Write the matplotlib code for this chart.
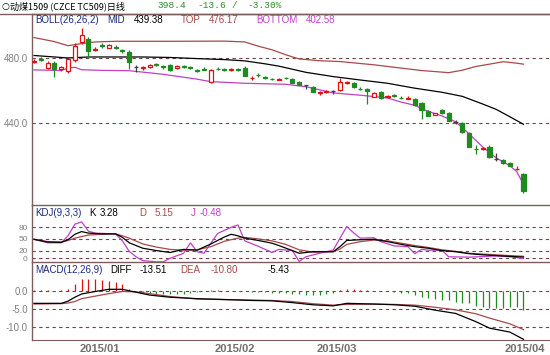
import numpy as np
import matplotlib
matplotlib.use("Agg")
import matplotlib.pyplot as plt
from matplotlib.lines import Line2D

W, H = 550, 355

# ---- daily candles, 动煤1509 ----
opens = [477.8, 479.6, 473.9, 477.1, 473.3, 472.0, 478.8, 489.6, 491.5, 485.1,
         487.8, 486.3, 486.6, 484.6, 483.9, 474.5, 474.0, 474.5, 476.2, 474.8,
         475.7, 473.7, 474.8, 474.4, 472.8, 473.4, 465.3, 473.4, 473.0, 472.9,
         473.0, 473.9, 467.5, 469.8, 468.1, 467.3, 466.8, 467.9, 467.1, 465.3,
         463.5, 462.2, 458.6, 459.2, 459.5, 460.4, 464.5, 464.7, 461.3, 460.7,
         456.3, 459.4, 456.0, 457.2, 455.6, 455.1, 454.9, 452.4, 447.7, 445.1,
         448.2, 446.5, 441.0, 440.0, 434.3, 424.4, 424.4, 425.3, 418.2, 417.5,
         415.9, 411.8, 409.0]
highs = [479.5, 480.6, 478.2, 478.0, 475.3, 480.0, 489.0, 498.6, 492.6, 486.5,
         489.2, 488.6, 488.0, 485.6, 484.6, 475.6, 475.0, 476.2, 476.9, 475.6,
         476.1, 475.8, 475.8, 475.0, 473.5, 474.6, 473.0, 474.4, 473.6, 473.8,
         473.6, 475.0, 469.0, 471.0, 469.0, 468.0, 467.8, 468.5, 467.5, 465.6,
         463.6, 462.6, 459.6, 460.3, 460.6, 467.8, 466.0, 465.3, 462.3, 461.5,
         459.3, 460.0, 457.3, 457.8, 456.6, 457.0, 455.3, 453.0, 448.3, 446.6,
         448.8, 447.0, 442.2, 440.5, 434.8, 426.8, 425.6, 427.0, 421.8, 418.4,
         416.4, 414.0, 409.5]
lows = [476.8, 478.0, 473.2, 468.5, 472.3, 470.8, 477.8, 488.6, 479.8, 484.2,
        486.3, 485.8, 485.6, 483.3, 473.3, 471.5, 472.6, 474.0, 475.0, 473.5,
        472.0, 473.2, 473.6, 473.3, 471.6, 472.4, 464.8, 472.4, 471.9, 472.3,
        471.8, 468.8, 466.2, 468.6, 467.0, 466.4, 466.2, 467.0, 464.5, 463.2,
        460.8, 458.9, 457.6, 458.4, 457.8, 460.0, 464.0, 461.8, 460.2, 451.8,
        455.8, 455.0, 455.4, 456.2, 454.6, 455.0, 450.8, 442.6, 444.2, 444.8,
        446.0, 441.2, 439.8, 434.0, 425.3, 421.2, 423.6, 418.8, 416.9, 415.0,
        413.6, 411.4, 397.6]
closes = [478.4, 478.9, 476.9, 473.3, 474.5, 479.4, 487.5, 494.1, 484.5, 485.7,
          487.3, 488.0, 486.1, 484.1, 477.4, 474.5, 474.5, 475.7, 475.8, 474.3,
          472.7, 475.3, 474.3, 473.9, 472.2, 472.9, 472.7, 473.0, 472.6, 473.3,
          472.6, 469.2, 468.0, 469.4, 467.7, 467.0, 467.2, 467.5, 464.7, 463.5,
          463.5, 459.2, 459.0, 459.6, 459.5, 465.3, 465.2, 462.2, 460.8, 459.5,
          458.8, 455.3, 456.5, 456.7, 455.2, 455.4, 451.2, 448.2, 444.7, 446.3,
          446.5, 441.6, 441.0, 434.5, 425.7, 424.0, 424.9, 419.2, 418.2, 415.5,
          414.1, 412.0, 398.4]

# ---- BOLL(26,26,2) ----
top_x = [0, 3, 5, 7, 9, 12, 20, 28, 31, 33, 35, 37, 39, 42, 45, 50, 54, 57, 61, 63, 65, 67, 69, 71, 72]
top_y = [492.5, 490.0, 487.5, 488.8, 489.8, 490.2, 490.2, 490.3, 489.8, 487.2, 485.0, 482.0,
         479.4, 478.3, 477.8, 475.8, 473.8, 472.3, 471.0, 472.5, 474.8, 476.2, 477.7, 476.8, 476.2]
mid_x = [0, 3, 5, 8, 16, 20, 24, 28, 31, 34, 36, 40, 44, 48, 52, 56, 60, 63, 66, 68, 70, 72]
mid_y = [481.5, 480.6, 480.0, 480.6, 480.6, 480.3, 479.6, 479.0, 478.2, 476.4, 475.0, 471.2,
         468.6, 466.5, 464.5, 461.5, 459.0, 456.5, 451.8, 448.5, 444.0, 439.4]
bot_x = [0, 4, 5, 6, 7, 10, 14, 19, 24, 26, 31, 37, 40, 44, 48, 52, 54, 56, 58, 60, 62, 64, 66, 68, 70, 71, 72]
bot_y = [472.7, 472.3, 473.8, 474.3, 472.8, 472.4, 472.2, 470.0, 467.0, 465.5, 464.5, 463.9,
         462.4, 458.6, 457.2, 455.5, 453.0, 451.0, 447.3, 444.5, 441.0, 433.5, 425.5, 418.8,
         414.0, 410.5, 402.6]

# ---- KDJ(9,3,3) ----
k_x = [0, 2, 4, 5, 6, 7, 8, 10, 12, 13, 14, 16, 18, 20, 22, 24, 26, 28, 29, 30, 31, 33, 35, 36,
       38, 39, 41, 44, 45, 46, 48, 50, 52, 54, 56, 58, 60, 62, 64, 66, 68, 70, 72]
k_y = [49, 42, 41, 48, 62, 69, 65, 63, 63, 54, 40, 26, 20, 15, 23, 21, 37, 55, 62, 58, 52, 46, 39, 33,
       20, 13, 17, 17, 30, 46, 48, 49, 43, 36, 30, 26, 20, 17, 12, 9, 7, 5, 3.28]
d_x = [0, 2, 4, 5, 6, 7, 8, 10, 12, 13, 14, 16, 18, 20, 22, 24, 26, 28, 30, 31, 33, 35, 37, 39,
       41, 44, 45, 46, 48, 50, 52, 54, 56, 58, 60, 62, 64, 66, 68, 70, 72]
d_y = [49, 43, 42, 46, 52, 56, 60, 62, 63, 58, 52, 37, 29, 23, 21, 22, 30, 44, 52, 54, 50, 45, 36, 22,
       16, 17, 24, 36, 43, 47, 45, 39, 33, 28, 22, 18, 13, 11, 9, 7, 5.15]
j_x = [0, 2, 4, 5, 6, 7, 8, 9, 12, 13, 14, 15, 16, 18, 19, 20, 22, 23, 24, 25, 27, 29, 30, 31, 33,
       35, 36, 38, 39, 40, 42, 44, 46, 47, 48, 50, 51, 53, 55, 56, 57, 58, 60, 61, 64, 68, 70, 72]
j_y = [49, 40, 40, 58, 88, 94, 70, 65, 63, 45, 18, 4, -6, -9, -9, 0, 13, 40, 17, 13, 64, 80, 86, 45, 31,
       15, 23, 20, -8, 4, 13, 21, 82, 66, 52, 53, 43, 32, 30, 12, 23, 21, 21, 4, 3, 6, 4, -0.48]

# ---- MACD(12,26,9) ----
diff_x = [0, 4, 5, 6, 7, 9, 11, 13, 15, 17, 20, 24, 29, 32, 35, 38, 41, 44, 46, 50, 53, 56, 59, 62, 65, 67, 70, 72]
diff_y = [-3.5, -3.5, -2.9, -1.8, -0.9, -0.2, 0.4, 0.4, -0.4, -1.2, -1.8, -2.2, -2.5, -2.7, -2.8,
          -3.3, -3.9, -4.2, -3.5, -3.7, -3.9, -4.3, -5.4, -6.3, -8.6, -10.4, -11.5, -13.51]
dea_x = diff_x
dea_y = [-3.7, -3.6, -3.4, -3.0, -2.2, -1.5, -0.8, -0.2, -0.3, -0.8, -1.6, -2.3, -2.5, -2.6, -2.7,
         -3.0, -3.6, -4.0, -3.8, -3.7, -3.8, -4.0, -4.6, -5.3, -6.4, -7.6, -9.2, -10.8]
macd_bar = [0.2, 0.2, 0.15, 0.05, 0.2, 0.6, 2.0, 3.4, 3.2, 3.2, 3.0, 2.7, 2.4, 2.0, 0.5,
            -0.2, -0.5, -0.7, -0.8, -0.9, -1.0, -1.0, -0.8, -0.5, -0.3, -0.2, 0.1, 0.1, 0.0, -0.1,
            -0.1, -0.2, -0.3, -0.4, -0.4, -0.5, -0.6, -0.7, -0.8, -1.0, -1.1, -1.2, -1.2, -1.0, -0.6,
            0.3, 0.5, 0.4, 0.2, 0.1, 0.0, -0.1, -0.2, -0.3, -0.5, -0.7, -1.2, -1.6, -2.1, -2.4,
            -2.6, -2.6, -3.0, -3.3, -3.5, -4.2, -4.6, -4.9, -4.9, -4.9, -4.6, -4.6, -5.43]

date_pos = [9.7, 29.6, 44.5, 72.2]
date_lbl = ["2015/01", "2015/02", "2015/03", "2015/04"]

UP = "#e01010"
DOWN = "#1f8a1f"
FLAT = "#404040"
FRAME = "#7d5c5c"
GRIDC = "#6e4646"
TOPC = "#a84848"
BOTC = "#c040c8"
NAVY = "#1a2a80"
TICKC = "#808080"
TXT = "Liberation Sans"

fig = plt.figure(figsize=(W / 100, H / 100), dpi=100)
fig.patch.set_facecolor("white")


def box(y0, y1):
    return [32 / W, 1 - y1 / H, (W - 32) / W, (y1 - y0) / H]


ax1 = fig.add_axes(box(14, 205))
ax2 = fig.add_axes(box(205, 262))
ax3 = fig.add_axes(box(262, 340))

xlim = (-0.3, 75.9)
for ax in (ax1, ax2, ax3):
    ax.set_xlim(*xlim)
    ax.set_facecolor("white")
    for s in ("right", "bottom"):
        ax.spines[s].set_visible(False)
    for s in ("left", "top"):
        ax.spines[s].set_color(FRAME)
        ax.spines[s].set_linewidth(1)
    ax.tick_params(axis="y", length=0, pad=3, labelsize=7, labelcolor=TICKC)
    ax.tick_params(axis="x", length=0)
    ax.set_xticks([])
ax3.spines["bottom"].set_visible(True)
ax3.spines["bottom"].set_color(FRAME)

# ---- price panel ----
ax1.set_ylim(390.0, 506.9)
ax1.set_yticks([480, 440])
ax1.set_yticklabels(["480.0", "440.0"], fontfamily=TXT)
for v in (480, 440):
    ax1.axhline(v, color=GRIDC, lw=0.8, ls=(0, (3, 3)), zorder=1)

ax1.plot(top_x, top_y, color=TOPC, lw=0.9, zorder=2)
ax1.plot(mid_x, mid_y, color="black", lw=0.9, zorder=2)
ax1.plot(bot_x, bot_y, color=BOTC, lw=0.9, zorder=2)

for i in range(len(closes)):
    o, h, l, c = opens[i], highs[i], lows[i], closes[i]
    if c > o:
        col, face = UP, "white"
    elif c < o:
        col, face = DOWN, DOWN
    else:
        col, face = FLAT, FLAT
    ax1.vlines(i, l, h, color=col, lw=0.9, zorder=3)
    ax1.bar(i, max(abs(c - o), 0.05), bottom=min(o, c), width=0.6,
            facecolor=face, edgecolor=col, linewidth=0.9, zorder=4)

# ---- KDJ panel ----
ax2.set_ylim(-9.5, 137.5)
ax2.set_yticks([80, 50, 20, 0])
ax2.set_yticklabels(["80", "50", "20", "0"], fontfamily=TXT, fontsize=6)
for v in (80, 50, 20, 0):
    ax2.axhline(v, color=GRIDC, lw=0.8, ls=(0, (3, 3)), zorder=1)
ax2.plot(d_x, d_y, color=TOPC, lw=0.9, zorder=2)
ax2.plot(k_x, k_y, color="black", lw=0.9, zorder=3)
ax2.plot(j_x, j_y, color=BOTC, lw=0.9, zorder=2)

# ---- MACD panel ----
ax3.set_ylim(-13.7, 8.0)
ax3.set_yticks([0, -5, -10])
ax3.set_yticklabels(["0.0", "-5.0", "-10.0"], fontfamily=TXT)
for v in (0, -5, -10):
    ax3.axhline(v, color=GRIDC, lw=0.8, ls=(0, (3, 3)), zorder=1)
bar_x = np.arange(len(macd_bar))
bar_v = np.array(macd_bar)
ax3.vlines(bar_x[bar_v >= 0], 0, bar_v[bar_v >= 0], color=UP, lw=0.9, zorder=2)
ax3.vlines(bar_x[bar_v < 0], 0, bar_v[bar_v < 0], color=DOWN, lw=0.9, zorder=2)
ax3.plot(dea_x, dea_y, color=TOPC, lw=0.9, zorder=3)
ax3.plot(diff_x, diff_y, color="black", lw=0.9, zorder=4)

ax3.set_xticks(date_pos)
ax3.set_xticklabels(date_lbl, fontfamily=TXT, fontsize=8, fontweight="bold", color="#707070")
ax3.tick_params(axis="x", length=0, pad=3)

# ---- header / legends ----
fig.add_artist(Line2D([0, 1], [1 - 14 / H, 1 - 14 / H], color=FRAME, lw=1))


def ftxt(x, y, s, color="black", size=7, family=TXT, **kw):
    fig.text(x / W, 1 - y / H, s, color=color, fontsize=size, family=family,
             ha="left", va="center", **kw)


ftxt(1, 6, "○", size=6.5, family="DejaVu Sans")
ftxt(10, 6, "动煤1509 (CZCE TC509)日线", size=6.5, family=["Noto Sans CJK SC", "DejaVu Sans"])
G = "#2e8b2e"
ftxt(157, 6, "398.4", color=G, size=6.8, family="Liberation Mono")
ftxt(197, 6, "-13.6", color=G, size=6.8, family="Liberation Mono")
ftxt(231, 6, "/", color=G, size=6.8, family="Liberation Mono")
ftxt(247, 6, "-3.30%", color=G, size=6.8, family="Liberation Mono")

ftxt(35, 20, "BOLL(26,26,2)", color=NAVY)
ftxt(107, 20, "MID", color=NAVY)
ftxt(134, 20, "439.38", color="black")
ftxt(181, 20, "TOP", color=TOPC)
ftxt(209, 20, "476.17", color=TOPC)
ftxt(256, 20, "BOTTOM", color=BOTC)
ftxt(306, 20, "402.58", color=BOTC)

ftxt(35, 213, "KDJ(9,3,3)", color=NAVY)
ftxt(89, 213, "K", color="black")
ftxt(100, 213, "3.28", color="black")
ftxt(139, 213, "D", color=TOPC)
ftxt(155, 213, "5.15", color=TOPC)
ftxt(191, 213, "J", color=BOTC)
ftxt(200, 213, "-0.48", color=BOTC)

ftxt(35, 270, "MACD(12,26,9)", color=NAVY)
ftxt(110, 270, "DIFF", color="black")
ftxt(140, 270, "-13.51", color="black")
ftxt(180, 270, "DEA", color=TOPC)
ftxt(211, 270, "-10.80", color=TOPC)
ftxt(268, 270, "-5.43", color="black")

fig.savefig("out.png", dpi=100)
